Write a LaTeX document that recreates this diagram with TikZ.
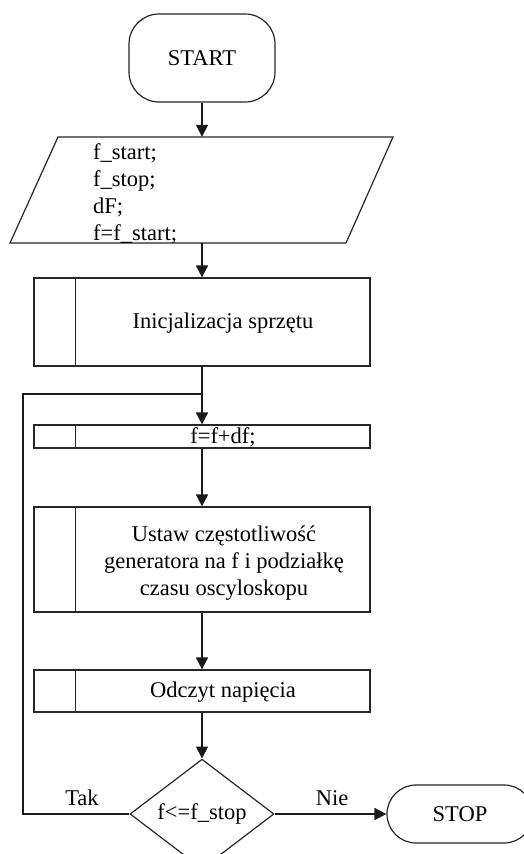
\documentclass[tikz,border=0pt]{standalone}
\usepackage{fontspec}
\setmainfont{Liberation Serif}
\usetikzlibrary{shapes.geometric,arrows.meta}
\begin{document}
\begin{tikzpicture}[x=1pt,y=-1pt,
  font=\fontsize{22.5}{27}\selectfont,
  shapeline/.style={draw=black!85,line width=1.2pt},
  terminal/.style={shapeline,rectangle,minimum width=146pt,inner sep=0pt},
  procbox/.style={shapeline,rectangle,minimum width=336pt,inner sep=0pt},
  decision/.style={shapeline,diamond,minimum width=144pt,minimum height=84pt,inner sep=0pt},
  flow/.style={draw=black!90,line width=1.7pt,-{Triangle[length=12pt,width=12pt]}},
  plain/.style={draw=black!90,line width=1.7pt},
  lbl/.style={inner sep=0pt,align=center}]
\useasboundingbox (0,0) rectangle (523,854);

% START
\node[terminal,minimum height=88pt,rounded corners=30pt] (start) at (202,58) {START};

% Input parallelogram
\node[inner sep=0pt,minimum width=336pt,minimum height=106pt] (io) at (202,190) {};
\draw[shapeline] (58,137) -- (393,137) -- (346,243) -- (10,243) -- cycle;
\node[lbl,align=left,anchor=north west] (iotext) at (93,143) {f\_start;\\f\_stop;\\dF;\\f=f\_start;};

% Init
\node[procbox,minimum height=88pt] (init) at (202,322) {};
\draw[shapeline] ([xshift=42pt]init.north west) -- ([xshift=42pt]init.south west);
\node[lbl] (inittext) at (223,323) {Inicjalizacja sprzętu};

% f=f+df
\node[procbox,minimum height=23pt] (inc) at (202,436.5) {};
\draw[shapeline] ([xshift=42pt]inc.north west) -- ([xshift=42pt]inc.south west);
\node[lbl] (inctext) at (223,437) {f=f+df;};

% Ustaw
\node[procbox,minimum height=105pt] (set) at (202,559.5) {};
\draw[shapeline] ([xshift=42pt]set.north west) -- ([xshift=42pt]set.south west);
\node[lbl] (settext) at (224,563) {Ustaw częstotliwość\\generatora na f i podziałkę\\czasu oscyloskopu};

% Odczyt
\node[procbox,minimum height=42pt] (read) at (202,691) {};
\draw[shapeline] ([xshift=42pt]read.north west) -- ([xshift=42pt]read.south west);
\node[lbl] (readtext) at (223,692) {Odczyt napięcia};

% Decision
\node[decision] (dec) at (202,814) {f<=f\_stop};

% STOP
\node[terminal,minimum height=58pt,rounded corners=29pt] (stop) at (460,814) {STOP};

% connectors
\draw[flow] (start.south) -- (io.north);
\draw[flow] (io.south) -- (init.north);
\draw[flow] (init.south) -- (inc.north);
\draw[flow] (inc.south) -- (set.north);
\draw[flow] (set.south) -- (read.north);
\draw[flow] (read.south) -- (dec.north);
\draw[flow] (dec.east) -- (stop.west);
\coordinate (loopA) at (23,814);
\coordinate (loopB) at (23,394);
\coordinate (loopC) at (202,394);
\draw[plain] (dec.west) -- (loopA) -- (loopB) -- (loopC);

% labels
\node[lbl] (tak) at (82,798) {Tak};
\node[lbl] (nie) at (332,798) {Nie};
\end{tikzpicture}
\end{document}
